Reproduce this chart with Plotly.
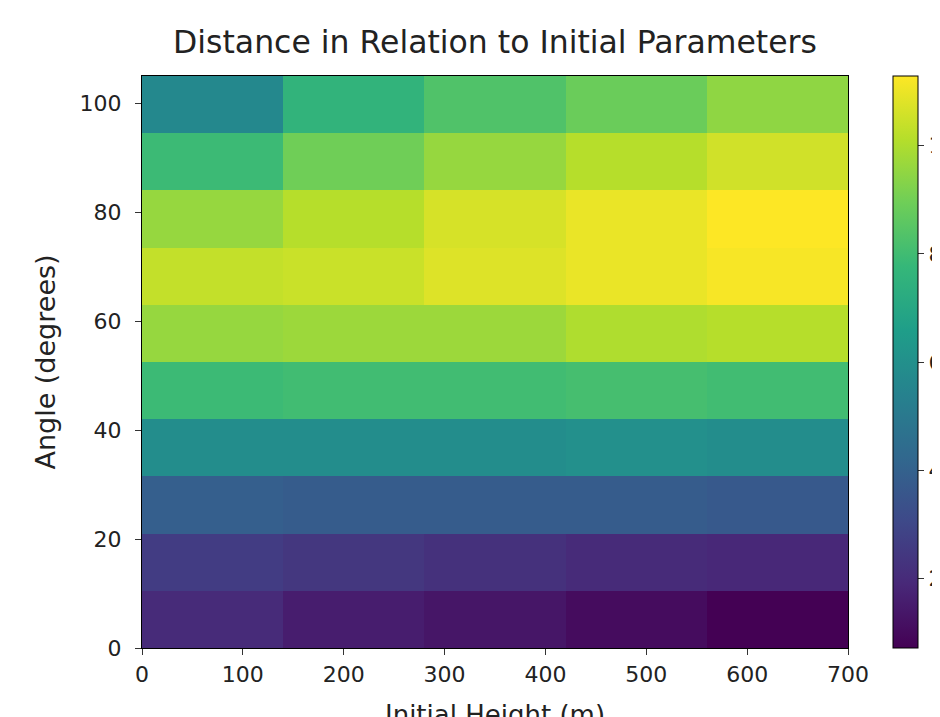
import plotly.graph_objects as go

# Bin edges of the grid
height_edges = [0, 140, 280, 420, 560, 700]          # Initial Height (m)
angle_edges = [0, 10.5, 21, 31.5, 42, 52.5, 63, 73.5, 84, 94.5, 105]  # Angle (degrees)

# Distance values, one row per angle bin (bottom to top), one column per height bin
row_00 = [1980, 1556, 1345, 1027, 710]
row_10 = [2614, 2403, 2191, 1980, 1874]
row_21 = [3884, 3778, 3778, 3778, 3672]
row_31 = [5894, 5894, 5894, 6000, 5894]
row_42 = [7904, 8010, 8010, 8116, 8010]
row_52 = [9597, 9703, 9703, 10020, 10126]
row_63 = [10338, 10444, 10761, 10973, 11184]
row_73 = [9597, 10126, 10655, 10973, 11290]
row_84 = [7904, 8962, 9597, 10126, 10549]
row_94 = [5683, 7587, 8328, 8857, 9491]

x_ticks = [0, 100, 200, 300, 400, 500, 600, 700]
y_ticks = [0, 20, 40, 60, 80, 100]
cbar_ticks = [2000, 4000, 6000, 8000, 10000]

z = [row_00, row_10, row_21, row_31, row_42, row_52, row_63, row_73, row_84, row_94]

FONT = "DejaVu Sans"

fig = go.Figure(
    go.Heatmap(
        x=height_edges,
        y=angle_edges,
        z=z,
        colorscale="Viridis",
        colorbar=dict(
            x=1.0637, xanchor="left", xpad=0,
            y=0.5, yanchor="middle", len=1.0, lenmode="fraction", ypad=0,
            thickness=25, thicknessmode="pixels",
            outlinewidth=1, outlinecolor="black",
            ticks="outside", ticklen=6, tickwidth=1.2, tickcolor="#333333",
            tickvals=cbar_ticks,
            tickformat="d",
            tickprefix="\u00a0\u2009",
            tickfont=dict(family=FONT, size=22, color="#222222"),
        ),
        hoverongaps=False,
    )
)

fig.update_layout(
    width=940, height=717,
    margin=dict(l=134, r=100, t=68, b=77, autoexpand=False),
    paper_bgcolor="white", plot_bgcolor="white",
    font=dict(family=FONT, color="#222222"),
    title=dict(
        text="Distance in Relation to Initial Parameters",
        x=0.5, xref="paper", xanchor="center",
        y=1 - 34 / 717, yanchor="middle",
        font=dict(family=FONT, size=31.5, color="#222222"),
    ),
    xaxis=dict(
        range=[0, 700], tickvals=x_ticks,
        ticks="outside", ticklen=6, tickwidth=1.2, tickcolor="#333333",
        showline=True, linecolor="black", linewidth=1.2, mirror=True,
        showgrid=False, zeroline=False,
        tickfont=dict(family=FONT, size=22),
    ),
    yaxis=dict(
        range=[0, 105], tickvals=y_ticks,
        ticks="outside", ticklen=6, tickwidth=1.2, tickcolor="#333333",
        showline=True, linecolor="black", linewidth=1.2, mirror=True,
        showgrid=False, zeroline=False,
        ticklabelstandoff=9,
        tickfont=dict(family=FONT, size=22),
        title=dict(text="Angle (degrees)", standoff=16,
                   font=dict(family=FONT, size=27)),
    ),
    annotations=[
        dict(
            text="Initial Height (m)",
            xref="paper", yref="paper",
            x=0.5, y=-0.087, xanchor="center", yanchor="top",
            showarrow=False,
            font=dict(family=FONT, size=26, color="#222222"),
        )
    ],
)

fig.write_html("out.html")
